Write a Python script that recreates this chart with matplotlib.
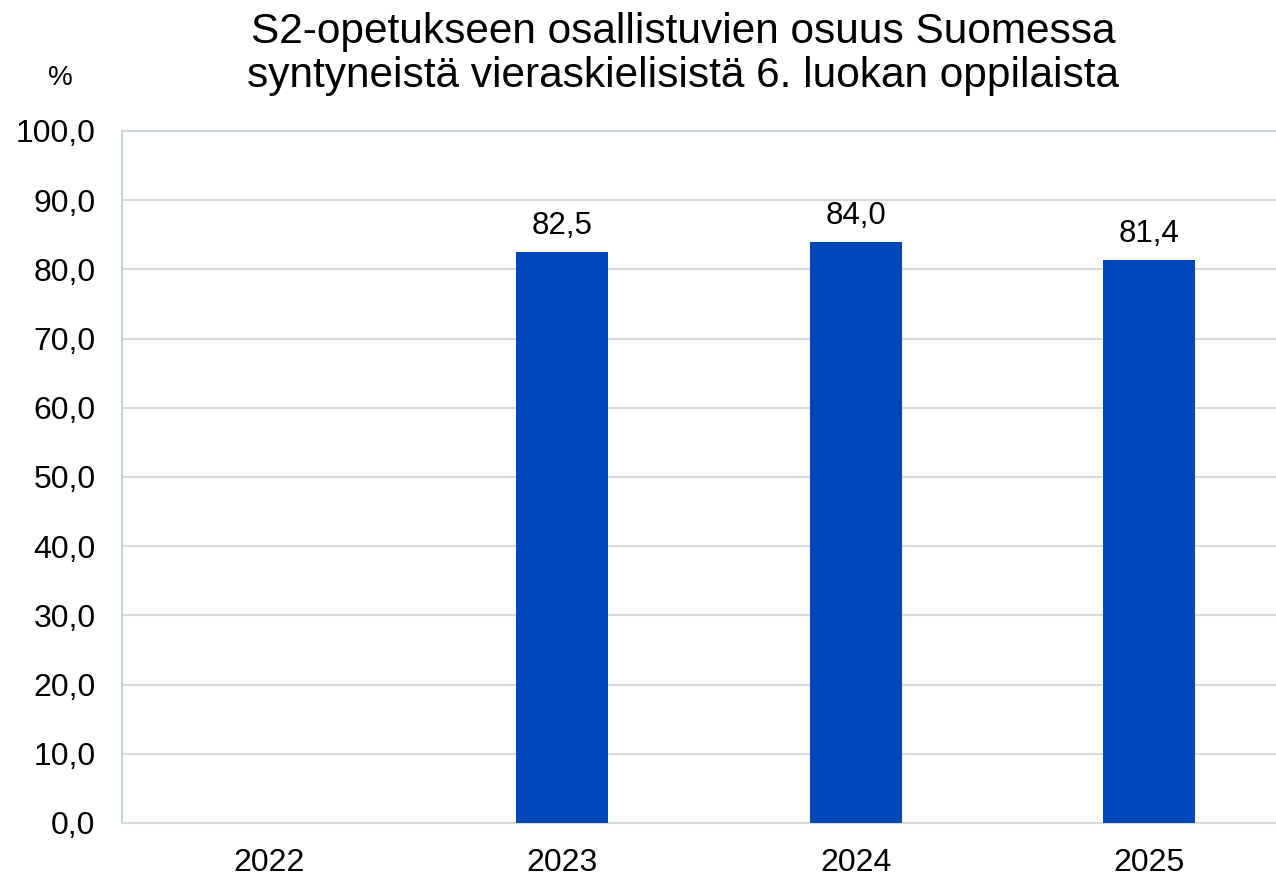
import numpy as np
import matplotlib.pyplot as plt

plt.rcParams['font.family'] = ['Liberation Sans', 'DejaVu Sans']

years = ["2022", "2023", "2024", "2025"]
values = [np.nan, 82.5, 84.0, 81.4]
yticks = [0, 10, 20, 30, 40, 50, 60, 70, 80, 90, 100]

fig = plt.figure(figsize=(12.76, 8.76), dpi=100)
ax = fig.add_axes([122 / 1276, 53 / 876, 1174 / 1276, 692 / 876])

x = np.arange(len(years))
ax.bar(x, values, width=0.314, color="#0047BA", zorder=3)

# value labels above bars (no value for 2022)
for xi, v in zip(x, values):
    if not np.isnan(v):
        ax.annotate(f"{v:.1f}".replace(".", ","), (xi, v), xytext=(0, 8),
                    textcoords="offset points", ha="center", va="bottom",
                    fontsize=22.5)

ax.set_xlim(-0.5, len(years) - 0.5)
ax.set_ylim(0, 100)
ax.set_xticks(x)
ax.set_xticklabels(years, fontsize=23)
ax.set_yticks(yticks)
ax.set_yticklabels([f"{t:.1f}".replace(".", ",") for t in yticks], fontsize=23)
ax.tick_params(length=0)
ax.tick_params(axis="y", pad=19)
ax.tick_params(axis="x", pad=18)

ax.grid(axis="y", color="#d9d9d9", linewidth=1.5, zorder=0)
ax.set_axisbelow(True)
for s in ["left", "top", "right"]:
    ax.spines[s].set_color("#c8d4e0")
    ax.spines[s].set_linewidth(1.5)
ax.spines["bottom"].set_color("#d9d9d9")
ax.spines["bottom"].set_linewidth(1.5)

fig.text(683 / 1276, 1 - 54 / 876,
         "S2-opetukseen osallistuvien osuus Suomessa\nsyntyneistä vieraskielisistä 6. luokan oppilaista",
         ha="center", va="center", fontsize=30.5, linespacing=1.15)
fig.text(60 / 1276, 1 - 78 / 876, "%", ha="center", va="center", fontsize=20)

fig.savefig("out.png", dpi=100)
